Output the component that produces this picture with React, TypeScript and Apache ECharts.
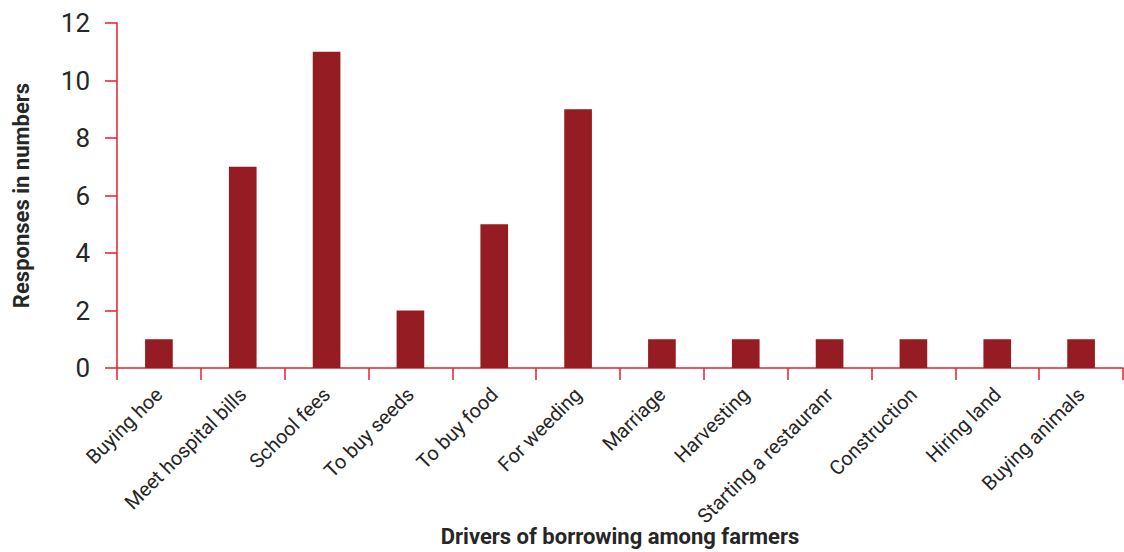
import React, { useEffect, useRef } from "react";
import * as echarts from "echarts";

const categories = [
  "Buying hoe",
  "Meet hospital bills",
  "School fees",
  "To buy seeds",
  "To buy food",
  "For weeding",
  "Marriage",
  "Harvesting",
  "Starting a restauranr",
  "Construction",
  "Hiring land",
  "Buying animals",
];
const responses = [1, 7, 11, 2, 5, 9, 1, 1, 1, 1, 1, 1];
const xAxisTitle = "Drivers of borrowing among farmers";
const yAxisTitle = "Responses in numbers";

const FONT = "Roboto, 'Noto Sans', sans-serif";
const AXIS_COLOR = "#e2202e";
const BAR_COLOR = "#951c23";
const TEXT_COLOR = "#262626";

export default function App() {
  const ref = useRef<HTMLDivElement>(null);
  useEffect(() => {
    if (!ref.current) return;
    const chart = echarts.init(ref.current, null, { renderer: "svg" });
    chart.setOption({
      animation: false,
      backgroundColor: "#ffffff",
      grid: {
        left: 117,
        right: 1,
        top: 23,
        bottom: 184,
        containLabel: false,
        outerBoundsMode: "none",
      },
      xAxis: {
        type: "category",
        data: categories,
        boundaryGap: true,
        name: xAxisTitle,
        nameLocation: "middle",
        nameGap: 157,
        nameMoveOverlap: false,
        nameTextStyle: { fontFamily: FONT, fontSize: 22, fontWeight: "bold", color: TEXT_COLOR },
        axisLine: { show: true, lineStyle: { color: AXIS_COLOR, width: 1.5 } },
        axisTick: { show: true, alignWithLabel: false, length: 12, lineStyle: { color: AXIS_COLOR, width: 1.5 } },
        axisLabel: {
          interval: 0,
          rotate: 45,
          margin: 23,
          fontFamily: FONT,
          fontSize: 20,
          color: TEXT_COLOR,
        },
        splitLine: { show: false },
      },
      yAxis: {
        type: "value",
        min: 0,
        max: 12,
        interval: 2,
        name: yAxisTitle,
        nameLocation: "middle",
        nameGap: 85,
        nameRotate: 90,
        nameMoveOverlap: false,
        nameTextStyle: { fontFamily: FONT, fontSize: 22, fontWeight: "bold", color: TEXT_COLOR },
        axisLine: { show: true, lineStyle: { color: AXIS_COLOR, width: 1.5 } },
        axisTick: { show: true, inside: false, length: 12, lineStyle: { color: AXIS_COLOR, width: 1.5 } },
        axisLabel: { margin: 27, fontFamily: FONT, fontSize: 26, color: TEXT_COLOR },
        splitLine: { show: false },
      },
      series: [
        {
          type: "bar",
          data: responses,
          barWidth: "33%",
          itemStyle: { color: BAR_COLOR },
        },
      ],
    });
    return () => chart.dispose();
  }, []);
  return (
    <div
      ref={ref}
      style={{ position: "fixed", left: 0, top: 0, width: 1124, height: 552 }}
    />
  );
}
